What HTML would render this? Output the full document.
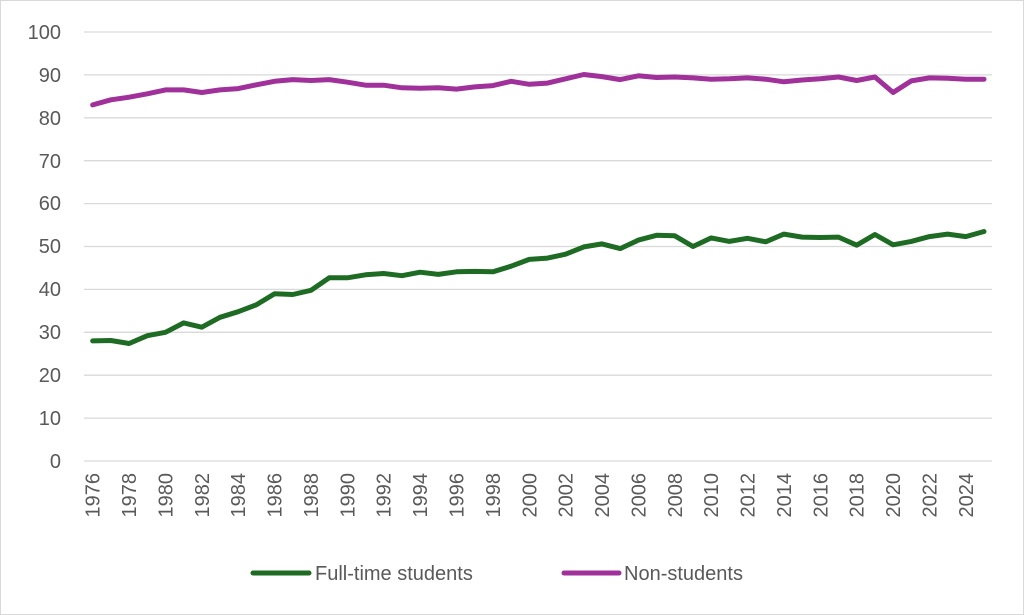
<!DOCTYPE html>
<html><head><meta charset="utf-8"><style>
body{margin:0;background:#fff}
svg{display:block;font-family:"Liberation Sans",Arial,sans-serif}
</style></head><body>
<svg id="s" width="1024" height="615" viewBox="0 0 1024 615">
<rect x="0.5" y="0.5" width="1023" height="614" fill="#fff" stroke="#d9d9d9"/>
<g stroke="#d9d9d9" stroke-width="1.3" id="grid"></g>
<g font-size="20" fill="#595959" text-anchor="end">
<text x="61" y="39">100</text><text x="61" y="82">90</text><text x="61" y="125">80</text><text x="61" y="168">70</text><text x="61" y="210">60</text><text x="61" y="253">50</text><text x="61" y="296">40</text><text x="61" y="339">30</text><text x="61" y="382">20</text><text x="61" y="425">10</text><text x="61" y="468">0</text>
</g>
<g font-size="20" fill="#595959" text-anchor="end" id="xl">
<text>1976</text><text>1978</text><text>1980</text><text>1982</text><text>1984</text><text>1986</text><text>1988</text><text>1990</text><text>1992</text><text>1994</text><text>1996</text><text>1998</text><text>2000</text><text>2002</text><text>2004</text><text>2006</text><text>2008</text><text>2010</text><text>2012</text><text>2014</text><text>2016</text><text>2018</text><text>2020</text><text>2022</text><text>2024</text>
</g>
<polyline id="p1" fill="none" stroke="#1e6b24" stroke-width="5" stroke-linejoin="round" stroke-linecap="round"/>
<polyline id="p2" fill="none" stroke="#a0309a" stroke-width="5" stroke-linejoin="round" stroke-linecap="round"/>
<line x1="253" y1="573" x2="309" y2="573" stroke="#1e6b24" stroke-width="5" stroke-linecap="round"/>
<text x="315" y="580" font-size="20" fill="#595959">Full-time students</text>
<line x1="564" y1="573" x2="619" y2="573" stroke="#a0309a" stroke-width="5" stroke-linecap="round"/>
<text x="624" y="580" font-size="20" fill="#595959">Non-students</text>
</svg>
<script>
var g=document.getElementById('grid');
for(var i=0;i<=10;i++){var y=461-i*42.9;var l=document.createElementNS('http://www.w3.org/2000/svg','line');l.setAttribute('x1',84);l.setAttribute('x2',992);l.setAttribute('y1',y);l.setAttribute('y2',y);g.appendChild(l);}
var t=document.getElementById('xl').children;
for(var k=0;k<t.length;k++){var x=92.7+k*36.38+7;t[k].setAttribute('transform','translate('+x+',473) rotate(-90)');}
var a=[28,28.1,27.4,29.2,30,32.2,31.2,33.5,34.8,36.4,39,38.8,39.8,42.7,42.7,43.4,43.7,43.2,44,43.5,44.1,44.2,44.1,45.4,47,47.3,48.2,49.9,50.6,49.5,51.5,52.6,52.5,50,52,51.2,51.9,51.1,52.9,52.2,52.1,52.2,50.3,52.8,50.4,51.2,52.3,52.9,52.3,53.5];
var b=[83,84.2,84.8,85.6,86.5,86.5,85.9,86.5,86.8,87.7,88.5,88.9,88.7,88.9,88.3,87.6,87.6,87,86.9,87,86.7,87.2,87.5,88.5,87.8,88.1,89.1,90.1,89.6,88.9,89.8,89.4,89.5,89.3,89,89.1,89.3,89,88.4,88.8,89.1,89.5,88.7,89.5,85.9,88.6,89.3,89.2,89.0,89.0];
function pts(d){return d.map(function(v,i){return (92.7+i*18.19).toFixed(1)+','+(461-v*4.29).toFixed(1)}).join(' ');}
document.getElementById('p1').setAttribute('points',pts(a));
document.getElementById('p2').setAttribute('points',pts(b));
</script>
</body></html>
